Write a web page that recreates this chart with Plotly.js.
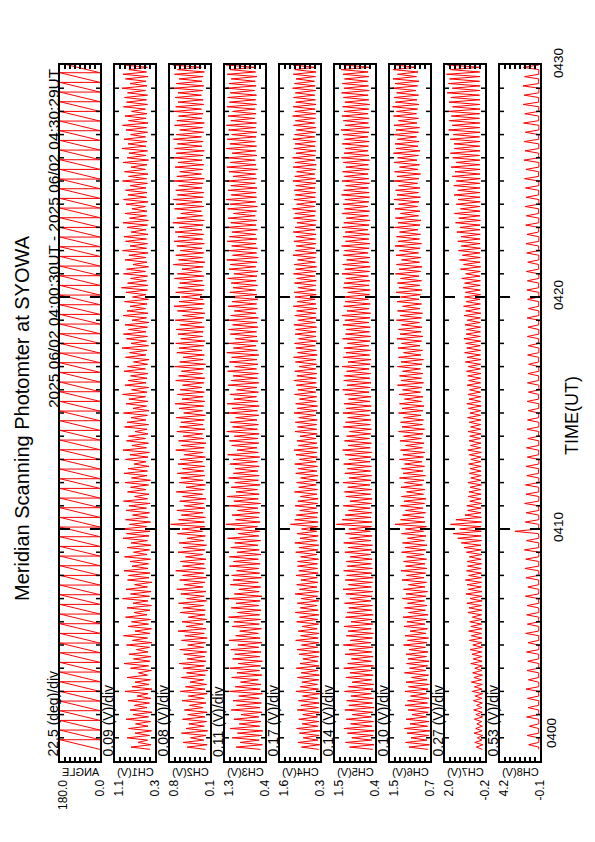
<!DOCTYPE html>
<html><head><meta charset="utf-8">
<script src="https://cdn.plot.ly/plotly-3.0.1.min.js"></script>
<style>html,body{margin:0;padding:0;background:#fff}#chart{width:595px;height:842px}</style>
</head><body><div id="chart"></div>
<script>
// ---- panel definitions ----
const panelNames = ['ANGLE','CH1(V)','CH2(V)','CH3(V)','CH4(V)','CH5(V)','CH6(V)','CH7(V)','CH8(V)'];
const rangeHigh = [180.0, 1.1, 0.8, 1.3, 1.6, 1.5, 1.5, 2.0, 4.2];
const rangeLow  = [0.0, 0.3, 0.1, 0.4, 0.3, 0.4, 0.7, -0.2, -0.1];
const highLabels = ['180.0','1.1','0.8','1.3','1.6','1.5','1.5','2.0','4.2'];
const lowLabels  = ['0.0','0.3','0.1','0.4','0.3','0.4','0.7','-0.2','-0.1'];
const perDivLabels = ['22.5 (deg)/div','0.09 (V)/div','0.08 (V)/div','0.11 (V)/div','0.17 (V)/div','0.14 (V)/div','0.10 (V)/div','0.27 (V)/div','0.53 (V)/div'];
const titleText = 'Meridian Scanning Photomter at SYOWA';
const periodText = '2025 06/02 04:00:30UT - 2025 06/02 04:30:29UT';
const timeTitle = 'TIME(UT)';
const timeTickLabels = ['0400','0410','0420','0430'];
const majorTickTimes = ['2025-06-02 04:00:00','2025-06-02 04:10:00','2025-06-02 04:20:00','2025-06-02 04:30:00'];
const axisStart = '2025-06-02 04:00:00';
const axisEnd = '2025-06-02 04:30:00';
const sampleStart = '2025-06-02 04:00:30';
const scanPeriodSec = 25;
const channelStepSec = 6;

// ---- data ----
// scan angle in degrees: each scan sweeps 0 -> 180 and then jumps back (start / end of every scan)
const angleDeg = [
0,180,0,180,0,180,0,180,0,180,0,180,0,180,0,180,0,180,0,180,0,180,0,180,
0,180,0,180,0,180,0,180,0,180,0,180,0,180,0,180,0,180,0,180,0,180,0,180,
0,180,0,180,0,180,0,180,0,180,0,180,0,180,0,180,0,180,0,180,0,180,0,180,
0,180,0,180,0,180,0,180,0,180,0,180,0,180,0,180,0,180,0,180,0,180,0,180,
0,180,0,180,0,180,0,180,0,180,0,180,0,180,0,180,0,180,0,180,0,180,0,180,
0,180,0,180,0,180,0,180,0,180,0,180,0,180,0,180,0,180,0,180,0,180,0,180];

// photometer channels, in units of 0.01 V
const VOLT_PER_UNIT = 0.01;
const ch1_cV = [
40,78,38,64,45,86,41,70,37,83,44,69,39,88,43,74,36,80,46,71,
41,84,38,66,44,90,36,76,42,70,39,86,45,63,37,79,43,92,40,73,
38,82,44,67,41,87,36,75,45,93,40,70,37,84,43,77,39,89,46,72,
40,86,37,74,44,95,41,79,38,88,45,71,36,85,42,83,40,92,44,76,
43,80,39,91,46,73,41,86,38,78,45,94,42,87,40,100,47,81,39,89,
44,75,41,88,47,82,40,93,45,71,42,85,48,79,43,90,39,77,46,92,
45,84,42,72,48,89,44,80,41,94,47,76,43,87,49,83,44,70,46,91,
43,86,48,78,45,93,42,74,47,88,44,82,49,95,46,77,43,90,48,84,
46,79,44,92,49,85,45,73,42,89,48,81,46,96,43,78,47,87,45,93,
48,83,45,90,42,76,47,94,44,86,49,80,46,91,43,75,48,88,45,97,
44,85,47,79,45,93,49,87,43,74,46,90,48,82,44,95,47,80,45,89,
47,92,44,78,48,86,45,94,43,81,47,90,46,76,49,88,44,93,47,84,
46,89,48,80,45,95,47,83,44,91,49,78,46,94,43,86,48,82,45,96,
48,84,46,92,49,79,45,88,47,95,44,83,48,90,46,77,49,93,45,87,
47,91,45,85,49,96,46,80,48,89,44,94,47,82,45,92,48,86,46,95];

const ch2_cV = [
18,50,15,57,21,44,17,60,14,52,20,47,16,58,19,49,15,55,22,46,
17,59,20,48,15,62,19,53,16,45,21,60,18,51,14,57,20,64,17,50,
19,56,16,63,21,49,18,60,15,54,20,66,17,52,22,59,16,48,19,62,
18,57,21,65,16,51,20,61,17,68,22,55,19,63,16,58,21,70,18,58,
20,62,17,53,22,66,19,57,16,64,21,50,18,67,23,59,19,79,20,65,
18,60,22,68,19,55,21,63,17,58,23,69,20,52,18,64,22,61,19,67,
21,58,19,66,23,62,18,55,22,70,20,60,17,65,21,57,23,68,19,63,
22,61,20,69,18,56,23,64,21,71,19,59,22,67,20,62,24,58,21,70,
19,65,23,60,21,72,18,63,22,57,20,68,24,64,21,70,19,61,23,66,
22,69,20,62,24,71,21,58,19,67,23,73,20,64,22,60,24,70,21,66,
20,63,23,72,21,67,25,59,22,74,19,65,23,70,21,62,24,68,20,73,
23,66,21,71,24,64,22,75,20,68,23,61,25,72,21,69,24,74,22,67,
21,70,24,65,22,73,20,68,25,63,23,71,21,66,24,75,22,69,20,72,
24,67,22,74,25,69,21,63,23,72,20,68,24,65,22,73,25,70,21,66,
22,71,25,66,23,74,21,69,24,64,22,72,20,67,25,75,23,70,21,73];

const ch3_cV = [
50,105,46,96,53,114,48,102,45,118,52,98,49,110,54,94,47,116,51,104,
48,112,53,99,46,120,51,107,49,95,55,115,47,103,52,119,50,100,46,113,
52,108,49,117,54,101,47,121,51,106,55,97,48,114,53,110,50,122,52,102,
49,116,54,105,51,123,47,109,53,99,50,118,55,112,48,115,52,104,54,120,
51,111,55,120,49,103,53,117,56,108,50,124,54,100,52,113,57,128,51,106,
54,114,52,102,56,121,50,110,55,125,53,105,57,116,51,108,55,122,53,111,
56,107,53,119,57,112,52,124,55,103,58,115,54,120,56,109,53,126,57,113,
55,118,58,106,54,122,57,114,53,125,56,110,59,119,55,104,58,123,54,116,
57,112,55,124,59,108,56,120,58,115,54,126,57,111,60,121,56,107,58,118,
59,122,56,113,58,125,55,117,60,109,57,123,59,114,56,127,58,119,61,112,
57,116,60,124,58,110,56,121,61,118,58,126,55,113,59,122,57,115,60,125,
58,120,61,114,57,126,60,117,58,123,62,111,59,124,57,119,61,127,59,116,
60,123,58,117,62,125,59,112,61,121,57,126,60,118,62,124,58,114,61,127,
59,119,62,125,60,115,58,122,61,127,59,117,63,123,60,113,62,126,59,120,
61,124,59,118,63,126,60,121,62,116,58,125,61,119,63,127,60,122,62,117];

const ch4_cV = [
34,90,31,102,37,85,33,97,30,106,36,88,34,99,38,86,32,104,35,92,
33,100,37,87,31,108,35,94,38,89,34,103,32,91,36,107,33,95,37,86,
35,98,32,105,38,90,34,109,36,93,33,101,39,88,35,106,37,96,34,110,
36,94,39,104,34,91,38,111,35,97,40,106,37,92,39,108,36,99,38,103,
38,103,35,93,40,109,37,98,34,112,39,95,36,105,41,90,38,126,36,112,
39,107,37,96,41,111,38,102,36,94,40,113,38,99,42,106,39,93,37,109,
40,101,38,112,42,97,39,108,41,114,37,100,40,105,43,95,39,111,41,103,
41,110,39,99,43,114,40,104,38,109,42,97,41,113,44,102,40,107,42,115,
42,105,40,112,44,98,41,110,43,116,39,103,42,108,45,113,41,100,43,111,
43,109,41,115,45,102,42,112,44,106,40,117,43,104,46,111,42,114,44,101,
44,113,42,106,46,116,43,109,41,114,45,103,44,118,42,110,46,107,43,115,
45,108,43,117,46,111,44,105,42,116,46,112,44,119,47,106,43,114,45,110,
44,114,46,109,43,118,45,112,47,106,44,117,42,111,46,119,45,108,43,115,
46,111,44,118,47,113,45,107,43,116,47,110,45,119,44,112,46,117,43,109,
45,116,47,110,44,119,46,113,48,108,45,117,43,112,47,118,46,111,44,115];

const ch5_cV = [
46,110,43,121,49,104,45,116,42,125,48,107,44,119,50,102,46,123,43,112,
47,118,44,106,50,124,46,113,43,103,49,120,45,109,48,126,44,115,50,105,
45,122,49,111,46,127,51,108,47,119,44,114,50,125,46,106,48,121,45,117,
49,112,47,124,51,109,48,120,46,128,50,113,47,122,45,118,49,126,47,116,
50,119,48,108,52,123,49,114,47,126,51,110,48,121,53,112,50,146,48,130,
51,122,49,113,53,127,50,109,48,120,52,124,49,115,54,128,51,111,49,123,
52,116,50,126,54,112,51,122,49,129,53,114,50,124,55,118,52,110,50,127,
53,121,51,115,55,128,52,119,50,125,54,113,51,123,56,129,53,117,51,126,
54,124,52,118,56,130,53,114,51,127,55,120,52,125,57,116,54,129,52,121,
55,119,53,128,57,123,54,131,52,117,56,126,53,122,58,130,55,115,53,127,
56,125,54,120,58,131,55,123,53,129,57,118,54,127,59,124,56,132,54,121,
57,128,55,122,59,130,56,126,54,119,58,131,55,124,60,128,57,123,55,132,
56,126,58,121,55,131,57,124,59,129,56,120,58,127,55,132,57,125,59,122,
58,130,56,124,59,128,57,133,55,122,58,127,56,131,59,125,57,129,55,123,
57,127,59,132,56,125,58,130,60,124,57,128,59,133,56,126,58,131,57,125];

const ch6_cV = [
74,112,71,119,76,108,73,116,70,121,75,110,72,118,77,106,74,114,71,120,
75,115,72,109,77,120,74,113,71,118,76,107,73,121,78,111,75,117,72,114,
77,118,74,112,79,123,76,115,73,120,78,110,75,122,80,116,77,124,74,113,
79,121,76,115,81,125,78,118,75,123,80,113,77,126,82,117,79,128,76,119,
80,123,77,117,82,127,79,120,76,125,81,115,78,127,83,119,77,140,80,129,
82,125,79,119,84,129,81,122,78,127,83,117,80,128,85,121,82,131,79,124,
84,127,81,121,86,131,83,124,80,129,85,119,82,130,87,123,84,133,81,126,
85,129,83,123,88,133,84,126,82,131,87,121,84,132,89,125,86,135,83,128,
87,131,84,125,89,135,86,128,83,133,88,123,85,134,90,127,87,136,84,130,
88,133,86,127,91,137,87,130,85,135,90,125,87,136,92,129,89,138,86,132,
90,135,87,129,92,139,89,132,86,137,91,127,88,138,93,131,90,140,87,134,
91,137,89,131,94,141,90,134,88,139,93,129,90,140,95,133,92,142,89,136,
93,139,90,133,95,142,92,136,89,141,94,131,91,142,96,135,93,143,90,138,
94,140,92,135,97,144,93,138,91,142,96,133,93,143,97,137,95,145,92,139,
96,142,93,137,98,145,95,140,92,144,97,135,94,144,99,139,96,146,93,141];

const ch7_cV = [
-5,28,-8,36,-3,22,-7,40,-4,31,-6,25,-2,38,-7,30,-5,42,-3,27,
-6,44,-3,34,-7,50,-4,38,-5,55,-2,41,-6,48,-3,36,-5,58,-4,45,
-4,52,-2,62,-5,47,-3,66,-4,55,-1,70,-4,58,-2,64,-3,50,-1,74,
-3,68,-1,80,-4,62,-2,85,-3,72,0,78,-2,88,0,70,-1,82,1,76,
-1,78,1,66,-2,82,0,95,2,110,-1,130,1,155,0,120,2,170,-1,140,
0,90,2,75,1,80,-1,64,2,72,1,68,3,62,0,74,2,58,1,66,
2,62,1,70,3,58,2,66,0,74,3,60,2,68,4,64,1,72,3,59,
3,67,2,76,4,63,3,71,1,80,4,68,3,74,5,65,2,78,4,70,
4,75,3,82,5,72,4,88,2,78,5,92,4,80,6,86,3,96,5,84,
5,82,4,90,6,78,5,95,3,86,6,98,5,84,7,92,4,88,6,100,
6,92,5,108,7,86,6,115,4,98,7,120,6,104,8,126,5,110,7,130,
7,112,6,135,8,118,7,142,5,124,8,148,7,115,9,138,6,128,8,150,
8,130,7,152,9,138,6,160,8,145,7,166,9,140,8,158,10,170,7,148,
9,150,8,172,10,155,7,180,9,160,8,176,10,165,9,185,7,158,9,178,
8,168,10,188,9,160,7,182,10,175,8,192,9,170,7,186,10,178,8,194];

const ch8_cV = [
5,2,112,4,3,4,128,2,6,3,105,4,3,5,134,2,5,3,118,4,
4,3,125,2,6,2,140,4,3,5,115,2,5,3,130,4,4,2,122,3,
6,2,135,3,3,4,119,2,5,2,144,4,4,3,126,2,6,2,133,3,
3,5,128,2,5,2,147,4,4,3,121,2,6,2,139,3,3,4,152,2,
5,2,143,4,4,3,158,2,6,2,136,3,3,8,260,4,5,2,148,3,
4,3,138,2,6,3,155,4,3,2,140,3,5,4,146,2,4,2,132,4,
6,3,138,2,3,2,127,4,5,4,135,2,4,2,122,3,6,3,130,2,
3,2,124,4,5,4,117,2,4,2,128,3,6,3,114,2,3,2,125,4,
5,4,120,2,4,2,112,3,6,3,123,2,3,2,116,4,5,4,126,2,
4,2,118,3,6,3,129,2,3,2,114,4,5,4,124,2,4,2,131,3,
6,3,126,2,3,2,136,4,5,4,122,2,4,2,133,3,6,3,141,2,
3,2,130,4,5,4,143,2,4,2,137,3,6,3,149,2,3,2,139,4,
5,4,146,2,4,2,156,3,6,3,141,2,3,2,163,4,5,4,151,2,
4,2,159,3,6,3,148,2,3,2,166,4,5,4,153,2,4,2,171,3,
6,3,161,2,3,2,173,4,5,4,156,2,4,2,169,3,6,3,164,2];

const channelUnits = [ch1_cV, ch2_cV, ch3_cV, ch4_cV, ch5_cV, ch6_cV, ch7_cV, ch8_cV];
const panelValues = [angleDeg].concat(channelUnits.map(a => a.map(v => v * VOLT_PER_UNIT)));

// ---- sample times ----
function toStamp(ms){ return new Date(ms).toISOString().slice(0,19).replace('T',' '); }
function parseStamp(s){ return Date.parse(s.replace(' ','T') + 'Z'); }
function sampleTimes(n, stepSec){
  const base = parseStamp(sampleStart);
  const out = [];
  for (let i = 0; i < n; i++) out.push(toStamp(base + i*stepSec*1000));
  return out;
}
// start/end instants of each scan (sweep start at t_i, sweep end at t_{i+1})
function scanTimes(nPoints, periodSec){
  const base = parseStamp(sampleStart);
  const out = [];
  for (let i = 0; i < nPoints; i++) out.push(toStamp(base + Math.ceil(i/2)*periodSec*1000));
  return out;
}
const minuteTicks = [];
for (let m = 0; m <= 30; m++) minuteTicks.push(toStamp(parseStamp(axisStart) + m*60000));

// ---- layout geometry (pixels in the 595x842 page) ----
const W = 595, H = 842;
const plotL = 60, plotR = 540, plotT = 65, plotB = 761;
const panelW = 40, panelStep = 55;
const pw = plotR - plotL, ph = plotB - plotT;
const px = x => (x - plotL) / pw;
const py = y => (plotB - y) / ph;
const FONT = 'Liberation Sans, Arial, Helvetica, sans-serif';
const longTick = 10 / panelW, shortTick = 4 / panelW;

const traces = [];
const layout = {
  width: W, height: H,
  margin: {l: plotL, r: W - plotR, t: plotT, b: H - plotB, pad: 0},
  paper_bgcolor: '#fff', plot_bgcolor: '#fff',
  showlegend: false,
  font: {family: FONT, color: '#000', size: 13},
  annotations: [],
  shapes: []
};

const mirrorIdx = [];
const last = panelNames.length - 1;
for (let k = 0; k < panelNames.length; k++) {
  const x0 = plotL + k*panelStep, x1 = x0 + panelW;
  const sfx = k === 0 ? '' : String(k+1);
  const xRef = 'x' + sfx, yRef = 'y' + sfx;
  const vals = panelValues[k];
  traces.push({
    type: 'scatter', mode: 'lines',
    x: vals, y: k === 0 ? scanTimes(vals.length, scanPeriodSec) : sampleTimes(vals.length, channelStepSec),
    xaxis: xRef, yaxis: yRef,
    line: {color: '#ff0000', width: 1}, hoverinfo: 'skip'
  });
  layout['xaxis' + sfx] = {
    domain: [px(x0), px(x1)], anchor: yRef,
    range: [rangeHigh[k], rangeLow[k]],
    tickmode: 'linear', tick0: rangeLow[k], dtick: (rangeHigh[k] - rangeLow[k]) / 8,
    ticks: 'inside', ticklen: 4, tickwidth: 1.5, tickcolor: '#000',
    showticklabels: false, showline: true, linewidth: 2, linecolor: '#000',
    mirror: 'ticks', showgrid: false, zeroline: false, fixedrange: true
  };
  layout['yaxis' + sfx] = {
    type: 'date', range: [axisStart, axisEnd], anchor: xRef, domain: [0, 1],
    side: k === last ? 'right' : 'left',
    tickmode: 'array', tickvals: majorTickTimes.slice(1), ticktext: timeTickLabels.slice(1),
    ticks: '', showticklabels: k === last, tickangle: -90, ticklabelstandoff: 5,
    tickfont: {family: FONT, size: 13.5, color: '#000'},
    showline: true, linewidth: 2, linecolor: '#000', mirror: true,
    showgrid: false, zeroline: false, fixedrange: true
  };
  // inward tick marks on both edges: short each minute, long at the inner 10-minute marks
  minuteTicks.forEach(t => {
    if (t === axisStart || t === axisEnd) return;
    const major = majorTickTimes.includes(t);
    const len = major ? longTick : shortTick;
    const lw = major ? 2 : 1.5;
    layout.shapes.push({type: 'line', xref: xRef + ' domain', yref: yRef, x0: 0, x1: len, y0: t, y1: t, line: {color: '#000', width: lw}});
    layout.shapes.push({type: 'line', xref: xRef + ' domain', yref: yRef, x0: 1 - len, x1: 1, y0: t, y1: t, line: {color: '#000', width: lw}});
  });
  // per-division label
  layout.annotations.push({xref: 'paper', yref: 'paper', x: px(x0 - 7.5), y: py(758),
    xanchor: 'center', yanchor: 'bottom', textangle: -90, showarrow: false,
    text: perDivLabels[k], font: {family: FONT, size: 14, color: '#000'}, borderpad: 0});
  // panel name (mirrored as in the original)
  mirrorIdx.push(layout.annotations.length);
  layout.annotations.push({xref: 'paper', yref: 'paper', x: px((x0 + x1)/2), y: py(772),
    xanchor: 'center', yanchor: 'middle', showarrow: false,
    text: panelNames[k], font: {family: FONT, size: 11, color: '#000'}, borderpad: 0});
  // range labels
  layout.annotations.push({xref: 'paper', yref: 'paper', x: px(x0 + 3), y: py(779),
    xanchor: 'center', yanchor: 'top', textangle: -90, showarrow: false,
    text: highLabels[k], font: {family: FONT, size: 12, color: '#000'}, borderpad: 0});
  layout.annotations.push({xref: 'paper', yref: 'paper', x: px(x1 - 1), y: py(779),
    xanchor: 'center', yanchor: 'top', textangle: -90, showarrow: false,
    text: lowLabels[k], font: {family: FONT, size: 12, color: '#000'}, borderpad: 0});
}
// first time label sits just above the panel bottom, as in the original
layout.annotations.push({xref: 'paper', yref: 'paper', x: px(551), y: py(733),
  xanchor: 'center', yanchor: 'middle', textangle: -90, showarrow: false,
  text: timeTickLabels[0], font: {family: FONT, size: 13.5, color: '#000'}, borderpad: 0});
layout.annotations.push({xref: 'paper', yref: 'paper', x: px(53), y: py(67),
  xanchor: 'center', yanchor: 'top', textangle: -90, showarrow: false,
  text: periodText, font: {family: FONT, size: 15.5, color: '#000'}, borderpad: 0});
layout.annotations.push({xref: 'paper', yref: 'paper', x: px(22), y: py(418),
  xanchor: 'center', yanchor: 'middle', textangle: -90, showarrow: false,
  text: titleText, font: {family: FONT, size: 20, color: '#000'}, borderpad: 0});
layout.annotations.push({xref: 'paper', yref: 'paper', x: px(572), y: py(416),
  xanchor: 'center', yanchor: 'middle', textangle: -90, showarrow: false,
  text: timeTitle, font: {family: FONT, size: 18, color: '#000'}, borderpad: 0});

Plotly.newPlot('chart', traces, layout, {staticPlot: true, displayModeBar: false}).then(gd => {
  gd.querySelectorAll('g.annotation').forEach(g => {
    const idx = +g.getAttribute('data-index');
    if (mirrorIdx.includes(idx)) {
      const t = g.querySelector('text.annotation-text');
      if (t) { t.style.transformBox = 'fill-box'; t.style.transformOrigin = 'center'; t.style.transform = 'scaleX(-1)'; }
    }
  });
});
</script></body></html>
